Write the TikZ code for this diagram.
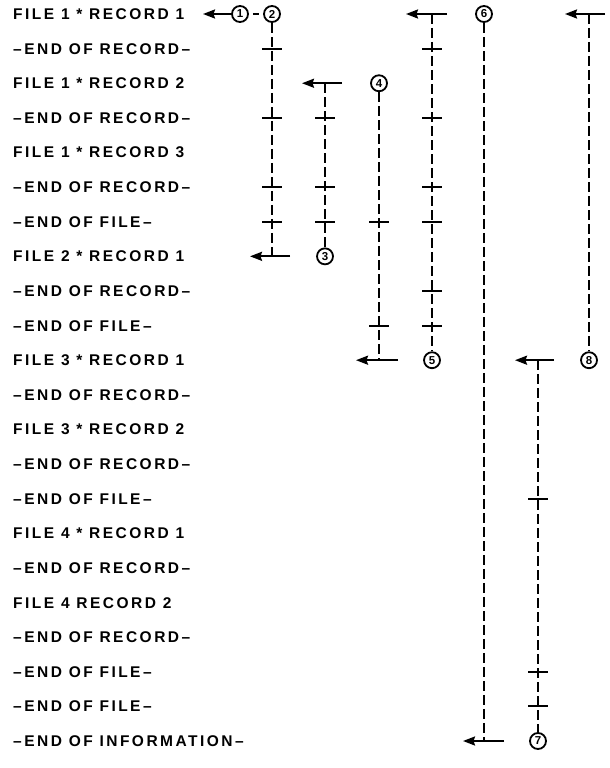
\documentclass[tikz,border=0pt]{standalone}
\usepackage{fontspec}
\newfontfamily\lblfont[LetterSpace=16]{Liberation Sans}
\newfontfamily\numfont{Liberation Sans}
\usetikzlibrary{arrows.meta}
\begin{document}
\begin{tikzpicture}[x=1pt,y=-1pt,
  lbl/.style={anchor=west, inner sep=0pt, font=\lblfont\bfseries\fontsize{15.5}{17}\selectfont, text height=11pt, text depth=0pt},
  circ/.style={circle, draw, line width=1.8pt, minimum size=16pt, inner sep=0pt, font=\numfont\bfseries\fontsize{11.5}{12}\selectfont},
  dsh/.style={line width=1.6pt, dash pattern=on 10pt off 4pt},
  tickmark/.style={line width=1.9pt},
  arr/.style={line width=2pt, -{Stealth[length=12pt,width=9pt,inset=1.5pt]}},
  bar/.style={line width=2pt}]
\useasboundingbox (0,0) rectangle (610,768);
\def\RS{34.619}
% labels
\node[lbl] (r1)  at (13,{14+0*\RS})  {FILE 1 * RECORD 1};
\node[lbl] (r2)  at (13,{14+1*\RS})  {–END OF RECORD–};
\node[lbl] (r3)  at (13,{14+2*\RS})  {FILE 1 * RECORD 2};
\node[lbl] (r4)  at (13,{14+3*\RS})  {–END OF RECORD–};
\node[lbl] (r5)  at (13,{14+4*\RS})  {FILE 1 * RECORD 3};
\node[lbl] (r6)  at (13,{14+5*\RS})  {–END OF RECORD–};
\node[lbl] (r7)  at (13,{14+6*\RS})  {–END OF FILE–};
\node[lbl] (r8)  at (13,{14+7*\RS})  {FILE 2 * RECORD 1};
\node[lbl] (r9)  at (13,{14+8*\RS})  {–END OF RECORD–};
\node[lbl] (r10) at (13,{14+9*\RS})  {–END OF FILE–};
\node[lbl] (r11) at (13,{14+10*\RS}) {FILE 3 * RECORD 1};
\node[lbl] (r12) at (13,{14+11*\RS}) {–END OF RECORD–};
\node[lbl] (r13) at (13,{14+12*\RS}) {FILE 3 * RECORD 2};
\node[lbl] (r14) at (13,{14+13*\RS}) {–END OF RECORD–};
\node[lbl] (r15) at (13,{14+14*\RS}) {–END OF FILE–};
\node[lbl] (r16) at (13,{14+15*\RS}) {FILE 4 * RECORD 1};
\node[lbl] (r17) at (13,{14+16*\RS}) {–END OF RECORD–};
\node[lbl] (r18) at (13,{14+17*\RS}) {FILE 4 RECORD 2};
\node[lbl] (r19) at (13,{14+18*\RS}) {–END OF RECORD–};
\node[lbl] (r20) at (13,{14+19*\RS}) {–END OF FILE–};
\node[lbl] (r21) at (13,{14+20*\RS}) {–END OF FILE–};
\node[lbl] (r22) at (13,{14+21*\RS}) {–END OF INFORMATION–};
% circled numbers
\node[circ] (c1) at (240,{14+0*\RS}) {1};
\node[circ] (c2) at (272,{14+0*\RS}) {2};
\node[circ] (c3) at (325,{14+7*\RS}) {3};
\node[circ] (c4) at (379,{14+2*\RS}) {4};
\node[circ] (c5) at (432,{14+10*\RS}) {5};
\node[circ] (c6) at (484,{14+0*\RS}) {6};
\node[circ] (c7) at (538,{14+21*\RS}) {7};
\node[circ] (c8) at (589,{14+10*\RS}) {8};
% arrow to record 1 and dash between 1 and 2
\coordinate (a1tip) at (203,{14+0*\RS});
\draw[arr] (c1.west) -- (a1tip);
\draw[bar] ([xshift=4pt]c1.east) -- ([xshift=-4pt]c2.west);
% column A
\coordinate (Ab) at (272,{14+7*\RS});
\coordinate (Abr) at (290,{14+7*\RS});
\coordinate (Abl) at (250,{14+7*\RS});
\draw[dsh] (c2.south) -- (Ab);
\draw[arr] (Abr) -- (Abl);
\foreach \r in {2,4,6,7} \draw[tickmark] (262,{14+(\r-1)*\RS}) -- (282,{14+(\r-1)*\RS});
% column B
\coordinate (Bt) at (325,{14+2*\RS});
\coordinate (Btr) at (342,{14+2*\RS});
\coordinate (Btl) at (302,{14+2*\RS});
\draw[arr] (Btr) -- (Btl);
\draw[dsh] (Bt) -- (c3.north);
\foreach \r in {4,6,7} \draw[tickmark] (315,{14+(\r-1)*\RS}) -- (335,{14+(\r-1)*\RS});
% column C
\coordinate (Cb) at (379,{14+10*\RS});
\coordinate (Cbr) at (398,{14+10*\RS});
\coordinate (Cbl) at (356,{14+10*\RS});
\draw[dsh] (c4.south) -- (Cb);
\draw[arr] (Cbr) -- (Cbl);
\foreach \r in {7,10} \draw[tickmark] (369,{14+(\r-1)*\RS}) -- (389,{14+(\r-1)*\RS});
% column D
\coordinate (Dt) at (432,{14+0*\RS});
\coordinate (Dtr) at (447,{14+0*\RS});
\coordinate (Dtl) at (406,{14+0*\RS});
\draw[arr] (Dtr) -- (Dtl);
\draw[dsh] (Dt) -- (c5.north);
\foreach \r in {2,4,6,7,9,10} \draw[tickmark] (422,{14+(\r-1)*\RS}) -- (442,{14+(\r-1)*\RS});
% column E
\coordinate (Eb) at (484,{14+21*\RS});
\coordinate (Ebr) at (504,{14+21*\RS});
\coordinate (Ebl) at (463,{14+21*\RS});
\draw[dsh] (c6.south) -- (Eb);
\draw[arr] (Ebr) -- (Ebl);
% column F
\coordinate (Ft) at (538,{14+10*\RS});
\coordinate (Ftr) at (554,{14+10*\RS});
\coordinate (Ftl) at (515,{14+10*\RS});
\draw[arr] (Ftr) -- (Ftl);
\draw[dsh] (Ft) -- (c7.north);
\foreach \r in {15,20,21} \draw[tickmark] (528,{14+(\r-1)*\RS}) -- (548,{14+(\r-1)*\RS});
% column G
\coordinate (Gt) at (589,{14+0*\RS});
\coordinate (Gtr) at (605,{14+0*\RS});
\coordinate (Gtl) at (565,{14+0*\RS});
\draw[arr] (Gtr) -- (Gtl);
\draw[dsh] (Gt) -- (c8.north);
\end{tikzpicture}
\end{document}
